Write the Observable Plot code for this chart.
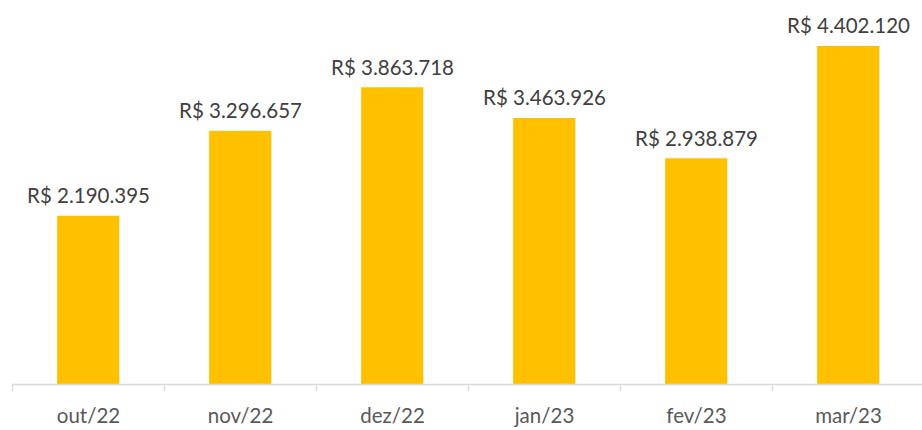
<!DOCTYPE html>
<html>
<head>
<meta charset="utf-8">
<script src="https://cdn.jsdelivr.net/npm/d3@7"></script>
<script src="https://cdn.jsdelivr.net/npm/@observablehq/plot@0.6"></script>
<style>
  html, body { margin: 0; padding: 0; background: #fff; }
  #chart svg { display: block; overflow: visible; }
</style>
</head>
<body>
<div id="chart"></div>
<script>
const categories = ["out/22", "nov/22", "dez/22", "jan/23", "fev/23", "mar/23"];
const values = [2190395, 3296657, 3863718, 3463926, 2938879, 4402120];
const valueLabels = ["R$ 2.190.395", "R$ 3.296.657", "R$ 3.863.718", "R$ 3.463.926", "R$ 2.938.879", "R$ 4.402.120"];

const data = categories.map((c, i) => ({i, category: c, value: values[i], label: valueLabels[i]}));
const FONT = "Lato, 'Open Sans', sans-serif";

const chart = Plot.plot({
  width: 922,
  height: 430,
  marginTop: 0,
  marginBottom: 46,
  marginLeft: 12,
  marginRight: 0,
  style: {fontFamily: FONT, background: "#fff"},
  x: {type: "linear", domain: [0, 6], range: [12, 924], axis: null},
  y: {domain: [0, 5000000], axis: null},
  marks: [
    Plot.rectY(data, {x1: d => d.i + 0.297, x2: d => d.i + 0.706, y: "value", fill: "#FFC000"}),
    Plot.ruleY([0], {stroke: "#d9d9d9", strokeWidth: 1.3}),
    Plot.axisX({ticks: d3.range(categories.length + 1), tickSize: 7, tickFormat: () => "", stroke: "#d9d9d9", strokeWidth: 1.3}),
    Plot.axisX({ticks: data.map(d => d.i + 0.5), tickSize: 0, tickPadding: 24, tickFormat: (t) => categories[Math.floor(t)], fontSize: 20.5, fill: "#595959", fontFamily: FONT}),
    Plot.text(data, {x: d => d.i + 0.5, y: "value", text: "label", lineAnchor: "bottom", dy: -13, fontSize: 20.5, fill: "#404040", fontFamily: FONT})
  ]
});
document.getElementById("chart").appendChild(chart);
</script>
</body>
</html>
